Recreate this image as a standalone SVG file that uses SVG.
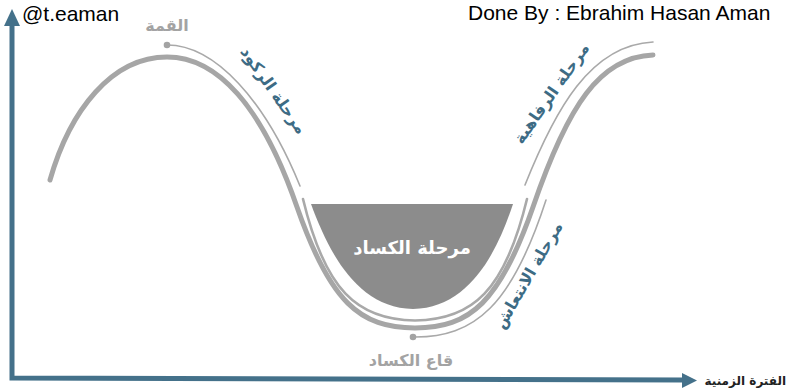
<svg xmlns="http://www.w3.org/2000/svg" width="788" height="392" viewBox="0 0 788 392">
<style>
.thick{fill:none;stroke:#a6a6a6;stroke-width:5;stroke-linecap:round}
.thin{fill:none;stroke:#a9a9a9;stroke-width:1.6;stroke-linecap:round}
.inner{fill:none;stroke:#a9a9a9;stroke-width:2.6;stroke-linecap:round}
.axis{fill:none;stroke:#44718a;stroke-width:5}
.ar{font-family:"DejaVu Sans",sans-serif;font-weight:bold}
.phase{fill:#3d6b84;font-size:16px}
.gray{fill:#a3a3a3}
.en{font-family:"Liberation Sans",Arial,sans-serif;font-size:21px;fill:#000}
</style>
<rect width="788" height="392" fill="#ffffff"/>
<g id="axes">
<path class="axis" d="M12,24 L12,378 L684,380"/>
<polygon points="4,26 12,9 20,26" fill="#44718a"/>
<polygon points="682,373 697,380.5 682,388" fill="#44718a"/>
</g>
<g id="connectors">
<path id="wave" class="thick" d="M50,180 C70,110 112,57 167,57 C217,57 262,105.5 297,207 C330,302 360,328 415,328 C470,328 500,302 533,207 C568,105 600,57 653,55"/>
<path id="thin-peak" class="thin" d="M167,45 C215,45 265,100 300,186"/>
<path id="thin-bottom" class="thin" d="M413,337 C475,338 512,305 546,200"/>
<path id="thin-top-right" class="thin" d="M525,185 C555,110 590,45 653,42"/>
<path id="inner-cup" class="inner" d="M303,199 C325,290 357,320 415,320.5 C473,320 505,290 527,199"/>
</g>
<g id="peak">
<circle cx="167" cy="45" r="3.3" fill="#a3a3a3"/>
<text class="ar gray" x="167" y="31" font-size="16" text-anchor="middle">القمة</text>
</g>
<g id="trough">
<circle cx="413" cy="337" r="3.3" fill="#a3a3a3"/>
<text class="ar gray" x="411" y="366" font-size="16" text-anchor="middle">قاع الكساد</text>
</g>
<g id="depression">
<path d="M311,204 L513,204 C498,250 470,308 413,309 C356,308 328,250 311,204 Z" fill="#8c8c8c"/>
<text class="ar" x="412" y="254" font-size="18" fill="#ffffff" text-anchor="middle">مرحلة الكساد</text>
</g>
<g id="recession">
<text class="ar phase" transform="translate(274,90) rotate(55)" y="6" text-anchor="middle">مرحلة الركود</text>
</g>
<g id="prosperity">
<text class="ar phase" transform="translate(551,93) rotate(-55)" y="6" text-anchor="middle">مرحلة الرفاهية</text>
</g>
<g id="recovery">
<text class="ar phase" transform="translate(528,275) rotate(-60)" y="6" text-anchor="middle">مرحلة الانتعاش</text>
</g>
<g id="time-label">
<text class="ar" x="786" y="385" font-size="12" fill="#222222" text-anchor="end">الفترة الزمنية</text>
</g>
<g id="credits">
<text class="en" x="22" y="21">@t.eaman</text>
<text class="en" x="468" y="20">Done By : Ebrahim Hasan Aman</text>
</g>
</svg>
